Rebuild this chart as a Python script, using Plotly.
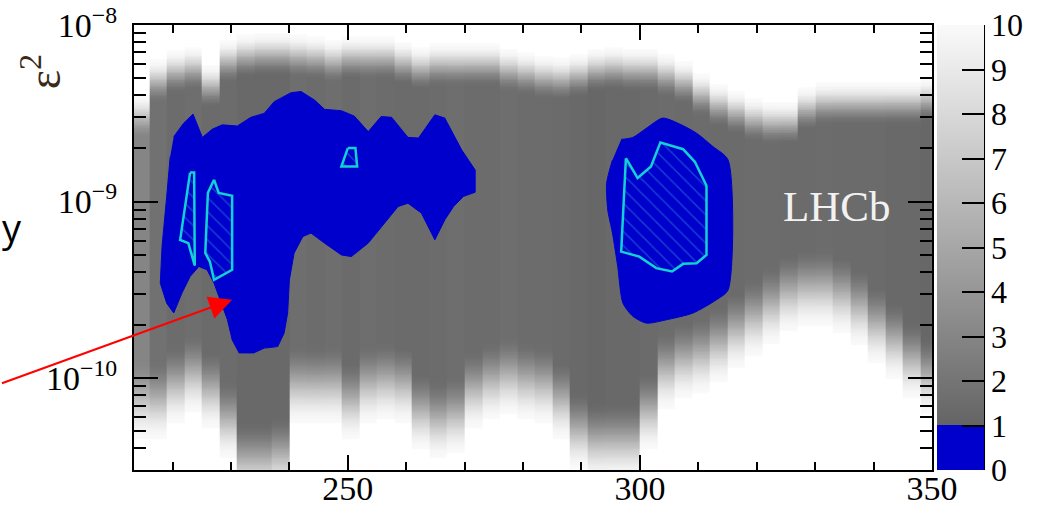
import numpy as np
import plotly.graph_objects as go

# ---------------- data ----------------
# grey band (test statistic map): one column per 3-MeV mass bin
mass_centers = [214.5, 217.5, 220.5, 223.5, 226.5, 229.5, 232.5, 235.5, 238.5, 241.5,
                244.5, 247.5, 250.5, 253.5, 256.5, 259.5, 262.5, 265.5, 268.5, 271.5,
                274.5, 277.5, 280.5, 283.5, 286.5, 289.5, 292.5, 295.5, 298.5, 301.5,
                304.5, 307.5, 310.5, 313.5, 316.5, 319.5, 322.5, 325.5, 328.5, 331.5,
                334.5, 337.5, 340.5, 343.5, 346.5, 349.5]
# log10(eps^2) where the band fades out to white (upper and lower edge)
band_top_log10 = [-8.40, -8.20, -8.15, -8.13, -8.23, -8.09, -8.06, -8.05, -8.05, -8.06,
                  -8.07, -8.09, -8.07, -8.07, -8.07, -8.10, -8.13, -8.11, -8.11, -8.11,
                  -8.11, -8.14, -8.16, -8.18, -8.19, -8.17, -8.14, -8.13, -8.14, -8.14,
                  -8.17, -8.21, -8.28, -8.34, -8.38, -8.42, -8.44, -8.44, -8.36, -8.33,
                  -8.33, -8.33, -8.33, -8.33, -8.33, -8.31]
band_bottom_log10 = [-10.35, -10.35, -10.26, -10.20, -10.29, -10.46, -10.69, -10.69, -10.66, -10.26,
                     -10.26, -10.26, -10.35, -10.26, -10.24, -10.26, -10.41, -10.46, -10.43, -10.29,
                     -10.24, -10.21, -10.24, -10.26, -10.35, -10.52, -10.58, -10.58, -10.58, -10.41,
                     -10.18, -10.12, -10.09, -10.03, -9.95, -9.88, -9.81, -9.74, -9.71, -9.71,
                     -9.75, -9.82, -9.92, -10.01, -10.12, -10.21]
# value inside the band (darkest level of each column)
band_core = [3.0, 1.8, 1.5, 1.6, 1.4, 1.5, 1.3, 1.3, 1.3, 1.6,
             1.5, 1.6, 1.4, 1.6, 1.5, 1.4, 1.4, 1.5, 1.6, 1.5,
             1.5, 1.6, 1.5, 1.5, 1.4, 1.3, 1.2, 1.3, 1.3, 1.4,
             1.5, 1.4, 1.5, 1.4, 1.4, 1.5, 1.5, 1.4, 1.4, 1.5,
             1.4, 1.4, 1.4, 1.3, 1.3, 1.2]

# blue regions (value < 1)
blue1_mass = [220.2, 221.9, 223.5, 225.1, 226.8, 228.5, 231.1, 233.4, 235.7, 237.4,
              240.3, 242.0, 244.3, 246.0, 248.9, 251.1, 253.5, 255.7, 257.5, 260.3,
              262.1, 264.9, 266.6, 269.5, 271.8, 271.8, 269.8, 268.1, 266.6, 264.9,
              262.6, 260.3, 258.6, 256.3, 253.5, 250.6, 248.9, 246.0, 243.7, 242.3,
              240.8, 240.0, 239.7, 239.1, 238.0, 235.7, 233.9, 231.4, 230.2, 229.4,
              228.2, 227.1, 225.9, 224.5, 223.0, 221.6, 220.2, 219.0, 217.9, 218.2,
              219.0, 219.6]
blue1_eps2 = [2.33e-9, 2.78e-9, 3.13e-9, 2.31e-9, 2.57e-9, 2.72e-9, 2.68e-9, 3.0e-9, 3.16e-9, 3.68e-9,
              4.14e-9, 4.2e-9, 3.76e-9, 3.33e-9, 3.27e-9, 3.05e-9, 2.49e-9, 3.03e-9, 3.0e-9, 2.31e-9,
              2.29e-9, 3.1e-9, 2.97e-9, 1.96e-9, 1.51e-9, 1.13e-9, 1.07e-9, 9.37e-10, 7.88e-10, 6.07e-10,
              8.6e-10, 9.79e-10, 9.37e-10, 7.55e-10, 5.82e-10, 4.88e-10, 4.99e-10, 5.82e-10, 6.63e-10, 6.34e-10,
              5.1e-10, 3.6e-10, 2.34e-10, 1.8e-10, 1.51e-10, 1.48e-10, 1.39e-10, 1.39e-10, 1.65e-10, 2.14e-10,
              2.78e-10, 3.45e-10, 4.11e-10, 4.29e-10, 3.76e-10, 3.03e-10, 2.34e-10, 2.66e-10, 3.45e-10, 5.56e-10,
              1.07e-9, 1.8e-9]
blue2_mass = [296.8, 298.8, 301.1, 303.9, 306.8, 309.7, 312.5, 315.1, 315.1, 313.1,
              309.1, 304.5, 301.1, 298.8, 297.1, 296.2, 295.3, 294.5, 294.3, 295.3]
blue2_eps2 = [2.25e-9, 2.31e-9, 2.6e-9, 2.97e-9, 2.75e-9, 2.44e-9, 2.05e-9, 1.72e-9, 3.16e-10, 2.78e-10,
              2.34e-10, 2.14e-10, 2.05e-10, 2.24e-10, 2.66e-10, 4.29e-10, 6.63e-10, 8.97e-10, 1.27e-9, 1.72e-9]

# cyan hatched regions
hatchA_mass = [223.0, 223.7, 223.8, 222.7, 221.3, 223.0]
hatchA_eps2 = [1.46e-9, 1.46e-9, 4.34e-10, 5.82e-10, 6.07e-10, 1.46e-9]
hatchB_mass = [227.1, 227.9, 230.2, 230.2, 227.1, 226.4, 225.6, 226.05, 227.1]
hatchB_eps2 = [1.33e-9, 1.12e-9, 1.08e-9, 4.11e-10, 3.6e-10, 4.56e-10, 5.12e-10, 1.12e-9, 1.33e-9]
hatchC_mass = [250.0, 251.3, 251.6, 248.9, 250.0]
hatchC_eps2 = [2.01e-9, 2.01e-9, 1.58e-9, 1.58e-9, 2.01e-9]
hatchD_mass = [297.6, 299.6, 301.9, 303.5, 307.4, 309.4, 311.4, 311.4, 309.7, 307.4,
               305.5, 302.8, 299.9, 296.8, 297.6]
hatchD_eps2 = [1.76e-9, 1.36e-9, 1.58e-9, 2.16e-9, 1.98e-9, 1.68e-9, 1.23e-9, 4.99e-10, 4.48e-10, 4.44e-10,
               4.02e-10, 4.2e-10, 4.88e-10, 5.21e-10, 1.76e-9]

x_ticks = [250, 300, 350]
y_ticks = [1e-10, 1e-9, 1e-8]
y_ticktext = ["10<sup>\u221210</sup>", "10<sup>\u22129</sup>", "10<sup>\u22128</sup>"]
cbar_ticks = [0, 1, 2, 3, 4, 5, 6, 7, 8, 9, 10]

# ---------------- build the map grid ----------------
TOP_FADE = 0.24
BOT_FADE = 0.45
rows = np.arange(-10.75, -7.90, 0.01)
z = np.full((len(rows), len(mass_centers)), np.nan)


def ramp(t):
    t = min(max(t, 0.0), 1.0)
    return t * t * (3 - 2 * t)


for j in range(len(mass_centers)):
    t, b, c = band_top_log10[j], band_bottom_log10[j], band_core[j]
    for i, L in enumerate(rows):
        if L >= t or L <= b:
            continue
        v = c
        if L > t - TOP_FADE:
            v = max(v, c + (10 - c) * ramp((L - (t - TOP_FADE)) / TOP_FADE))
        if L < b + BOT_FADE:
            v = max(v, c + (10 - c) * ramp(((b + BOT_FADE) - L) / BOT_FADE))
        z[i, j] = min(v, 10)

BLUE = "#0000cc"
colorscale = [[0.0, BLUE], [0.1, BLUE], [0.1, "rgb(100,100,100)"], [1.0, "rgb(250,250,250)"]]

fig = go.Figure()
fig.add_trace(go.Heatmap(
    x=mass_centers, y=10 ** rows, z=z, zmin=0, zmax=10, colorscale=colorscale,
    zsmooth=False, hoverinfo="skip",
    colorbar=dict(x=1.0063, xanchor="left", xpad=0, y=0.5, yanchor="middle", ypad=0,
                  len=1, lenmode="fraction", thickness=47, outlinewidth=0,
                  tickmode="array", tickvals=cbar_ticks, ticks="inside", ticklen=22,
                  tickwidth=2, tickcolor="black",
                  tickfont=dict(family="Liberation Serif", size=32, color="black")),
))

for mx, my, smooth in [(blue1_mass, blue1_eps2, False), (blue2_mass, blue2_eps2, True)]:
    fig.add_trace(go.Scatter(
        x=mx, y=my, mode="lines", fill="toself", fillcolor=BLUE,
        line=dict(color=BLUE, width=1, shape="spline" if smooth else "linear", smoothing=0.7),
        showlegend=False, hoverinfo="skip"))

for mx, my in [(hatchA_mass, hatchA_eps2), (hatchB_mass, hatchB_eps2),
               (hatchC_mass, hatchC_eps2), (hatchD_mass, hatchD_eps2)]:
    fig.add_trace(go.Scatter(
        x=mx, y=my, mode="lines", fill="toself", fillcolor=BLUE,
        fillpattern=dict(shape="\\", size=10, solidity=0.15, fgcolor="#2f7fd8", bgcolor=BLUE),
        line=dict(color="#12d0d4", width=2.5),
        showlegend=False, hoverinfo="skip"))

fig.update_layout(
    width=1043, height=508,
    margin=dict(l=134, r=111, t=25, b=38, pad=0, autoexpand=False),
    paper_bgcolor="white", plot_bgcolor="white",
    showlegend=False,
    xaxis=dict(range=[213.4, 350], tickmode="array", tickvals=x_ticks, automargin=False,
               ticks="inside", ticklen=15, tickwidth=1.5, tickcolor="black",
               minor=dict(dtick=10, tick0=0, ticks="inside", ticklen=8, tickwidth=1.5, tickcolor="black"),
               showline=True, linecolor="black", linewidth=2, mirror="ticks",
               showgrid=False, zeroline=False, ticklabelstandoff=-13,
               tickfont=dict(family="Liberation Serif", size=34, color="black")),
    yaxis=dict(type="log", range=[-10.52, -8.0], tickmode="array", tickvals=y_ticks, ticktext=y_ticktext,
               automargin=False,
               ticks="inside", ticklen=24, tickwidth=1.5, tickcolor="black",
               minor=dict(tickmode="array",
                          tickvals=[k * 1e-11 for k in range(4, 10)] + [k * 1e-10 for k in range(2, 10)]
                          + [k * 1e-9 for k in range(2, 10)],
                          ticks="inside", ticklen=12, tickwidth=1.5, tickcolor="black"),
               showline=True, linecolor="black", linewidth=2, mirror="ticks",
               showgrid=False, zeroline=False, ticklabelstandoff=8,
               tickfont=dict(family="Liberation Serif", size=34, color="black")),
    annotations=[
        dict(text="LHCb", x=333.7, y=-9.03, xref="x", yref="y", showarrow=False,
             font=dict(family="Liberation Serif", size=43, color="#f2f2f2")),
        dict(text="\u03b5<sup>2</sup>", x=-0.117, y=0.895, xref="paper", yref="paper",
             xanchor="center", yanchor="middle",
             textangle=-90, showarrow=False,
             font=dict(family="Liberation Serif", size=46, color="#3a2a1a")),
        dict(text="y", x=-0.168, y=0.545, xref="paper", yref="paper", xanchor="left",
             yanchor="middle", showarrow=False,
             font=dict(family="Open Sans", size=38, color="black")),
        dict(text="", x=230.2, y=-9.556, xref="x", yref="y", showarrow=True,
             ax=-231.7, ay=84, axref="pixel", ayref="pixel",
             arrowhead=2, arrowsize=2.3, arrowwidth=2, arrowcolor="#ff0000"),
    ],
    shapes=[dict(type="line", xref="paper", yref="paper", x0=1.0652, x1=1.0652, y0=0, y1=1,
                 line=dict(color="black", width=2))],
)

fig.write_html("out.html")
